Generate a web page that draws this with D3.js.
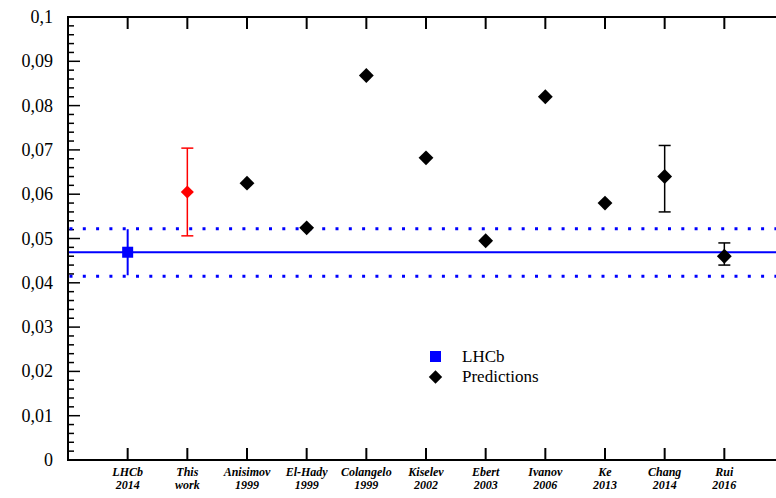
<!DOCTYPE html>
<html>
<head>
  <script src="https://d3js.org/d3.v7.min.js"></script>
  <style>
    body { margin: 0; background: #fff; }
    .tick-label { font-size: 18px; }
    .cat-label { font-size: 12px; font-weight: bold; font-style: italic; }
    .legend { font-size: 17px; }
  </style>
</head>
<body>
  <svg width="776" height="498"></svg>
  <script>
    // categories (two-line labels)
    const catLine1 = ['LHCb', 'This', 'Anisimov', 'El-Hady', 'Colangelo', 'Kiselev', 'Ebert', 'Ivanov', 'Ke', 'Chang', 'Rui'];
    const catLine2 = ['2014', 'work', '1999', '1999', '1999', '2002', '2003', '2006', '2013', '2014', '2016'];

    // LHCb measurement
    const lhcbValue = 0.0469;
    const lhcbErr = 0.0052;
    const bandLow = 0.0415;
    const bandHigh = 0.0522;

    // this work
    const thisValue = 0.0605;
    const thisLow = 0.0506;
    const thisHigh = 0.0704;

    // predictions (index into categories)
    const predIndex = [2, 3, 4, 5, 6, 7, 8, 9, 10];
    const predValue = [0.0625, 0.0524, 0.0868, 0.0682, 0.0495, 0.0820, 0.0580, 0.0640, 0.0460];
    const predLow = [null, null, null, null, null, null, null, 0.0560, 0.0440];
    const predHigh = [null, null, null, null, null, null, null, 0.0710, 0.0490];

    const yTicks = [0, 0.01, 0.02, 0.03, 0.04, 0.05, 0.06, 0.07, 0.08, 0.09, 0.1];
    const yTickLabels = ['0', '0,01', '0,02', '0,03', '0,04', '0,05', '0,06', '0,07', '0,08', '0,09', '0,1'];

    const serif = "'Liberation Serif', 'Times New Roman', Times, 'DejaVu Serif', serif";

    const svg = d3.select('svg').attr('font-family', serif);
    const mLeft = 68, mTop = 17, mBottom = 460, mRight = 784;

    const x = d3.scaleLinear().domain([0, 12]).range([mLeft, mRight]);
    const y = d3.scaleLinear().domain([0, 0.1]).range([mBottom, mTop]);

    // frame
    svg.append('rect')
      .attr('x', mLeft).attr('y', mTop)
      .attr('width', mRight - mLeft).attr('height', mBottom - mTop)
      .attr('stroke', '#000').attr('stroke-width', 2).attr('fill', 'none');

    // y ticks (major + minor), pointing inward
    const minor = d3.range(0, 51).map(i => i * 0.002);
    svg.append('g').selectAll('line')
      .data(minor)
      .enter().append('line')
      .attr('x1', mLeft).attr('x2', (d, i) => mLeft + (i % 5 === 0 ? 12 : 6))
      .attr('y1', d => y(d)).attr('y2', d => y(d))
      .attr('stroke', '#000').attr('stroke-width', 1.5);

    svg.append('g').selectAll('text')
      .data(yTicks)
      .enter().append('text')
      .attr('class', 'tick-label')
      .attr('font-family', serif)
      .attr('x', mLeft - 15)
      .attr('y', d => y(d) + 6)
      .attr('text-anchor', 'end')
      .text((d, i) => yTickLabels[i]);

    // x ticks top and bottom
    const cats = d3.range(1, catLine1.length + 1);
    const xt = svg.append('g').attr('stroke', '#000').attr('stroke-width', 2);
    xt.selectAll('.b').data(cats).enter().append('line')
      .attr('x1', d => x(d)).attr('x2', d => x(d))
      .attr('y1', mBottom).attr('y2', mBottom - 12);
    xt.selectAll('.t').data(cats).enter().append('line')
      .attr('x1', d => x(d)).attr('x2', d => x(d))
      .attr('y1', mTop).attr('y2', mTop + 12);

    const labels = svg.append('g').selectAll('text')
      .data(cats)
      .enter().append('text')
      .attr('class', 'cat-label')
      .attr('font-family', serif)
      .attr('text-anchor', 'middle')
      .attr('x', d => x(d))
      .attr('y', 476);
    labels.append('tspan').attr('x', d => x(d)).text((d, i) => catLine1[i]);
    labels.append('tspan').attr('x', d => x(d)).attr('dy', 13).text((d, i) => catLine2[i]);

    // LHCb band
    const plot = svg.append('g');
    plot.append('line')
      .attr('x1', mLeft + 1).attr('x2', mRight)
      .attr('y1', y(lhcbValue)).attr('y2', y(lhcbValue))
      .attr('stroke', '#0000ff').attr('stroke-width', 2);
    plot.selectAll('.band')
      .data([bandLow, bandHigh])
      .enter().append('line')
      .attr('x1', mLeft + 1.5).attr('x2', mRight)
      .attr('y1', d => y(d)).attr('y2', d => y(d))
      .attr('stroke', '#0000ff').attr('stroke-width', 3)
      .attr('stroke-dasharray', '3,10.3');

    // LHCb point
    plot.append('line')
      .attr('x1', x(1)).attr('x2', x(1))
      .attr('y1', y(lhcbValue - lhcbErr)).attr('y2', y(lhcbValue + lhcbErr))
      .attr('stroke', '#0000ff').attr('stroke-width', 2);
    plot.append('rect')
      .attr('x', x(1) - 5.5).attr('y', y(lhcbValue) - 5.5)
      .attr('width', 11).attr('height', 11)
      .attr('fill', '#0000ff');

    // error bar helper
    function errBar(g, cx, lo, hi, color) {
      g.append('line').attr('x1', cx).attr('x2', cx)
        .attr('y1', y(lo)).attr('y2', y(hi))
        .attr('stroke', color).attr('stroke-width', 1.5);
      [lo, hi].forEach(v => {
        g.append('line').attr('x1', cx - 6).attr('x2', cx + 6)
          .attr('y1', y(v)).attr('y2', y(v))
          .attr('stroke', color).attr('stroke-width', 1.5);
      });
    }

    const diamond = d3.symbol().type(d3.symbolSquare).size(110);

    // this work
    errBar(plot, x(2), thisLow, thisHigh, '#ff0000');
    plot.append('path')
      .attr('d', d3.symbol().type(d3.symbolSquare).size(85)())
      .attr('transform', `translate(${x(2)},${y(thisValue)}) rotate(45)`)
      .attr('fill', '#ff0000');

    // predictions
    predIndex.forEach((ci, i) => {
      if (predLow[i] !== null) errBar(plot, x(ci + 1), predLow[i], predHigh[i], '#000');
    });
    plot.selectAll('.pred')
      .data(predIndex)
      .enter().append('path')
      .attr('d', diamond())
      .attr('transform', (ci, i) => `translate(${x(ci + 1)},${y(predValue[i])}) rotate(45)`)
      .attr('fill', '#000');

    // legend
    const lg = svg.append('g');
    lg.append('rect').attr('x', 430).attr('y', 351).attr('width', 11).attr('height', 11).attr('fill', '#0000ff');
    lg.append('path').attr('d', d3.symbol().type(d3.symbolSquare).size(90)())
      .attr('transform', 'translate(435.5,377) rotate(45)').attr('fill', '#000');
    lg.append('text').attr('class', 'legend').attr('font-family', serif).attr('x', 462).attr('y', 362).text('LHCb');
    lg.append('text').attr('class', 'legend').attr('font-family', serif).attr('x', 462).attr('y', 382).text('Predictions');
  </script>
</body>
</html>
